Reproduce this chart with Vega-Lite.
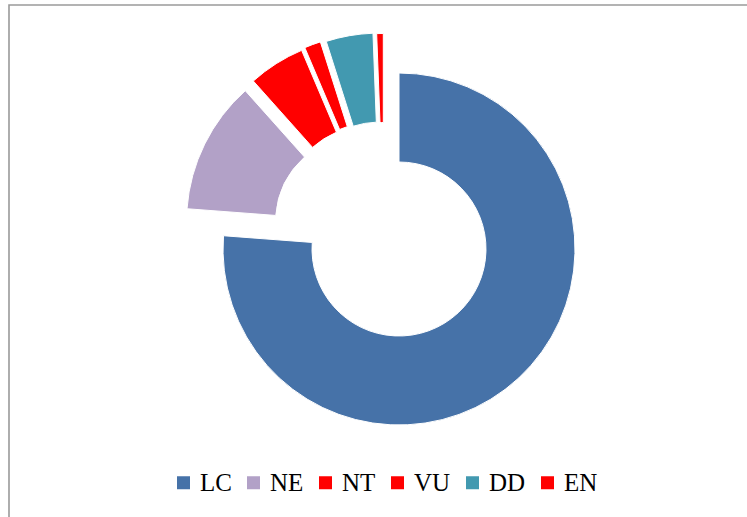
{
  "$schema": "https://vega.github.io/schema/vega-lite/v6.json",
  "width": 780,
  "height": 520,
  "autosize": {"type": "none"},
  "padding": {"left": 9, "top": 5, "right": 0, "bottom": 0},
  "background": "white",
  "view": {"stroke": "#9a9a9a", "strokeWidth": 1.6, "fill": "white"},
  "config": {
    "font": "Liberation Serif"
  },
  "data": {
    "values": [
      {"cat": "LC", "value": 76.2},
      {"cat": "NE", "value": 12.2},
      {"cat": "NT", "value": 5.2},
      {"cat": "VU", "value": 1.5},
      {"cat": "DD", "value": 4.3},
      {"cat": "EN", "value": 0.6}
    ]
  },
  "transform": [
    {"window": [{"op": "row_number", "as": "idx"}]},
    {"stack": "value", "groupby": [], "sort": [{"field": "idx", "order": "ascending"}], "as": ["v0", "v1"]}
  ],
  "encoding": {
    "theta": {"field": "v0", "type": "quantitative", "scale": {"domain": [0, 100]}},
    "theta2": {"field": "v1"},
    "color": {
      "field": "cat",
      "type": "nominal",
      "scale": {
        "domain": ["LC", "NE", "NT", "VU", "DD", "EN"],
        "range": ["#4672a8", "#b2a1c7", "#ff0000", "#ff0000", "#4299b0", "#ff0000"]
      },
      "legend": {
        "title": null,
        "orient": "none",
        "legendX": 162,
        "legendY": 465,
        "direction": "horizontal",
        "columns": 6,
        "columnPadding": 9,
        "gridAlign": "each",
        "padding": 0,
        "symbolType": "square",
        "symbolSize": 169,
        "symbolStrokeWidth": 0,
        "labelFont": "Liberation Serif",
        "labelFontSize": 25,
        "labelColor": "#000000",
        "labelOffset": 4,
        "labelLimit": 200
      }
    }
  },
  "layer": [
    {"transform": [{"filter": "datum.cat === 'LC'"}],
     "mark": {"type": "arc", "radius": 176, "radius2": 87, "xOffset": 0, "yOffset": -16, "stroke": "white", "strokeWidth": 1}},
    {"transform": [{"filter": "datum.cat === 'NE'"}],
     "mark": {"type": "arc", "radius": 176, "radius2": 87, "xOffset": -36.5, "yOffset": -43, "stroke": "white", "strokeWidth": 1}},
    {"transform": [{"filter": "datum.cat === 'NT'"}],
     "mark": {"type": "arc", "radius": 176, "radius2": 87, "xOffset": -28.5, "yOffset": -52.7, "stroke": "white", "strokeWidth": 1}},
    {"transform": [{"filter": "datum.cat === 'VU'"}],
     "mark": {"type": "arc", "radius": 176, "radius2": 87, "xOffset": -25.3, "yOffset": -55.4, "stroke": "white", "strokeWidth": 1}},
    {"transform": [{"filter": "datum.cat === 'DD'"}],
     "mark": {"type": "arc", "radius": 176, "radius2": 87, "xOffset": -19.4, "yOffset": -55.9, "stroke": "white", "strokeWidth": 1}},
    {"transform": [{"filter": "datum.cat === 'EN'"}],
     "mark": {"type": "arc", "radius": 176, "radius2": 87, "xOffset": -15.7, "yOffset": -55.5, "stroke": "white", "strokeWidth": 1}}
  ]
}
